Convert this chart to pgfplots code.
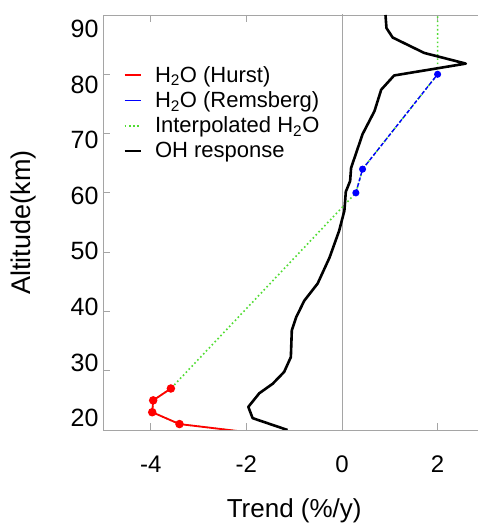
\documentclass[border=0pt]{standalone}
\usepackage{pgfplots}
\pgfplotsset{compat=1.18}
\usepackage{fontspec}
\setmainfont{Liberation Sans}
\definecolor{lgreen}{RGB}{80,220,50}
\definecolor{axgray}{RGB}{165,165,165}
\begin{document}
\begin{tikzpicture}
\path[use as bounding box] (0,0) rectangle (478pt,524pt);
\begin{axis}[
  at={(103pt,94pt)}, anchor=south west,
  scale only axis, width=382.4pt, height=415pt,
  xmin=-5, xmax=3, ymin=20, ymax=90,
  xtick={-4,-2,0,2}, ytick={20,30,...,90},
  tick align=inside, major tick length=7pt,
  axis line style={axgray, line width=0.9pt},
  every tick/.style={axgray, line width=0.9pt},
  /pgf/number format/assume math mode=true,
  xticklabel style={font=\fontsize{24}{24}\selectfont, yshift=-22pt},
  yticklabel style={font=\fontsize{25}{25}\selectfont, xshift=-1pt, yshift={12-(\tick-20)*26/70}},
  xlabel={Trend (\%/y)}, ylabel={Altitude(km)},
  every axis x label/.style={at={(axis description cs:0.5,-0.195)}, anchor=center, font=\fontsize{26}{26}\selectfont},
  every axis y label/.style={at={(axis description cs:-0.2066,0.5)}, rotate=90, anchor=center, font=\fontsize{27}{27}\selectfont},
  legend style={at={(axis description cs:0.045,0.887)}, anchor=north west, draw=none, fill=none,
    font=\fontsize{22}{24}\selectfont, row sep=4pt,
    /tikz/every odd column/.append style={column sep=11pt}},
  legend cell align=left,
  legend image code/.code={\draw[#1, mark=none] (0pt,0pt) -- (16pt,0pt);},
]
\addplot[axgray, line width=0.9pt, forget plot] coordinates {(0,15) (0,95)};

% interpolated water vapour, drawn underneath
\addplot[lgreen, line width=1.6pt, dash pattern=on 1.6pt off 2.6pt, forget plot] coordinates {
(-1.32,19) (-2.36,20) (-3.40,21) (-3.97,23) (-3.95,25) (-3.58,27) (0.29,60) (0.43,64) (2.0,80) (2.0,90)};

\addplot[red, line width=1.8pt, mark=*, mark size=3.3pt, mark indices={2,3,4,5}] coordinates {
(-1.32,19) (-2.36,20) (-3.40,21) (-3.97,23) (-3.95,25) (-3.58,27)};
\addlegendentry{H\textsubscript{2}O (Hurst)}

\addplot[blue, line width=1.4pt, dash pattern=on 4pt off 2pt, mark=*, mark size=2.8pt, mark options={solid},
  legend image post style={solid}] coordinates {
(0.29,60) (0.43,64) (2.0,80)};
\addlegendentry{H\textsubscript{2}O (Remsberg)}

\addlegendimage{lgreen, line width=1.6pt, dash pattern=on 1.6pt off 2.6pt}
\addlegendentry{Interpolated H\textsubscript{2}O}

\addplot[black, line width=2.6pt, line join=round] coordinates {
(0.91,90) (0.93,87.8) (1.06,86.2) (1.72,83.6) (2.59,81.8) (1.09,79.8) (0.82,77.4)
(0.68,73.8) (0.43,69.9) (0.19,64.2) (0.17,62.0) (0.08,60.2) (0.05,57.0) (-0.06,53.6)
(-0.26,49.1) (-0.51,44.7) (-0.79,41.8) (-0.96,39.0) (-1.05,36.8) (-1.07,32.3)
(-1.21,29.8) (-1.45,27.8) (-1.73,26.2) (-1.96,23.9) (-1.87,22.0) (-1.14,20.0)};
\addlegendentry{OH response}
\end{axis}
\end{tikzpicture}
\end{document}
